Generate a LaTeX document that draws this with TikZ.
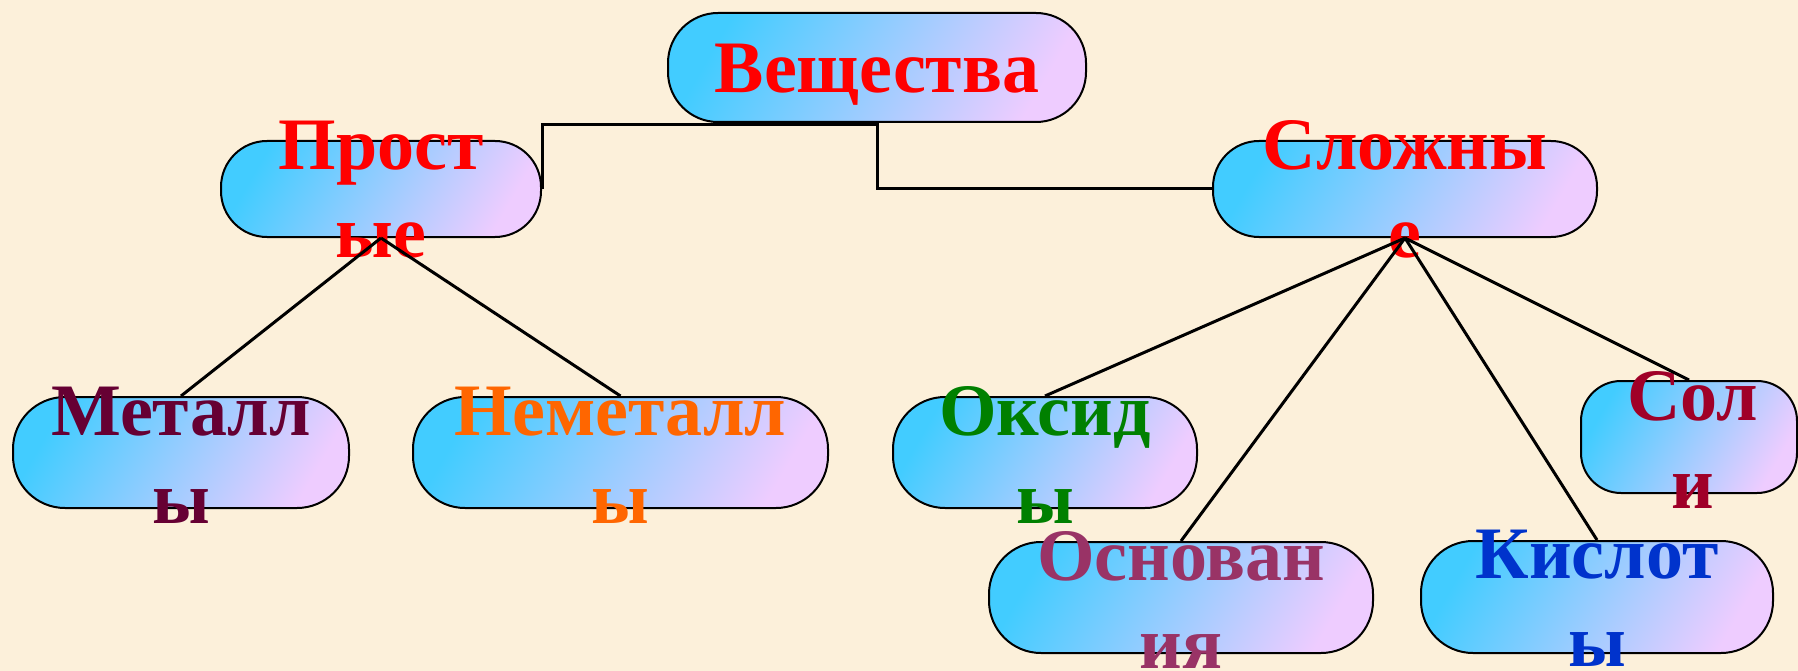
\documentclass[tikz,border=0pt]{standalone}
\usepackage{fontspec}
\setmainfont{Liberation Serif}
\definecolor{bgc}{HTML}{FCF0DA}
\definecolor{cyanc}{HTML}{42CCFF}
\definecolor{violc}{HTML}{EECCFF}
\definecolor{metc}{HTML}{660033}
\definecolor{nemc}{HTML}{FF6600}
\definecolor{oksc}{HTML}{008000}
\definecolor{osnc}{HTML}{993366}
\definecolor{kisc}{HTML}{0033CC}
\definecolor{solc}{HTML}{A00028}
\newcommand\twoln[2]{\vtop{\baselineskip=88pt\halign{\hfil##\hfil\cr#1\cr#2\cr}}}
\begin{document}
\begin{tikzpicture}[x=1pt,y=-1pt,
  box/.style={draw=black, line width=2pt, inner sep=0pt,
    left color=cyanc, right color=violc, shading angle=60, rounded corners=#1},
  box/.default=50,
  txt/.style={inner sep=0pt, anchor=base, font=\fontsize{74}{88}\selectfont\bfseries},
  conn/.style={draw=black, line width=3pt}]
\fill[bgc] (0,0) rectangle (1798,671);
\useasboundingbox (0,0) rectangle (1798,671);
% boxes
\node[box=50, minimum width=418pt, minimum height=109pt] (vesh) at (877,67.5) {};
\node[box=46, minimum width=320pt, minimum height=96pt] (prost) at (381,189) {};
\node[box=46, minimum width=384pt, minimum height=96pt] (slozh) at (1405,189) {};
\node[box=52, minimum width=336pt, minimum height=111pt] (metal) at (181,452.5) {};
\node[box=52, minimum width=415pt, minimum height=111pt] (nemet) at (620.5,452.5) {};
\node[box=52, minimum width=304pt, minimum height=111pt] (oksid) at (1045,452.5) {};
\node[box=52, minimum width=384pt, minimum height=111pt] (osnov) at (1181,597.5) {};
\node[box=52, minimum width=352pt, minimum height=112pt] (kislot) at (1597,597) {};
\node[box=40, minimum width=216pt, minimum height=112pt] (soli) at (1689,437) {};
% texts
\node[txt, text=red] (tvesh) at (877,93) {Вещества};
\node[txt, text=red] (tprost) at (381,170) {\twoln{Прост}{ые}};
\node[txt, text=red] (tslozh) at (1405,170) {\twoln{Сложны}{е}};
\node[txt, text=metc] (tmetal) at (181,435) {\twoln{Металл}{ы}};
\node[txt, text=nemc] (tnemet) at (620.5,435) {\twoln{Неметалл}{ы}};
\node[txt, text=oksc] (toksid) at (1045,435) {\twoln{Оксид}{ы}};
\node[txt, text=osnc] (tosnov) at (1181,580) {\twoln{Основан}{ия}};
\node[txt, text=kisc] (tkislot) at (1597,578) {\twoln{Кислот}{ы}};
\node[txt, text=solc] (tsoli) at (1693,420) {\twoln{Сол}{и}};
% connectors
\coordinate (jog) at (877,125);
\draw[conn] (prost.east) |- (jog) |- (slozh.west);
\draw[conn] (prost.south) -- (metal.north);
\draw[conn] (prost.south) -- (nemet.north);
\draw[conn] (slozh.south) -- (oksid.north);
\draw[conn] (slozh.south) -- (osnov.north);
\draw[conn] (slozh.south) -- (kislot.north);
\draw[conn] (slozh.south) -- (soli.north);
\end{tikzpicture}
\end{document}
